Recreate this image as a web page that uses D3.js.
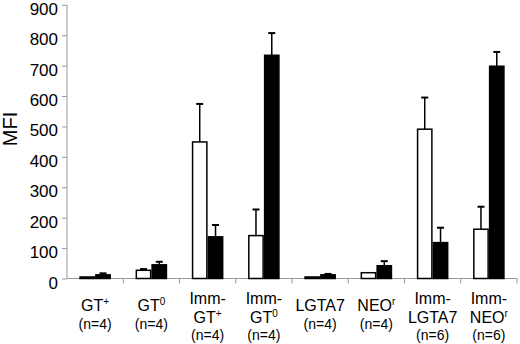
<!DOCTYPE html>
<html>
<head>
<meta charset="utf-8">
<script src="https://cdn.jsdelivr.net/npm/d3@7"></script>
<style>
  body { margin: 0; background: #fff; }
  text { font-family: "Liberation Sans", Arial, sans-serif; fill: #000; }
</style>
</head>
<body>
<div id="chart"></div>
<script>
// category labels: lines, superscript given as [base, sup]
const categories = ['GT+', 'GT0', 'Imm-GT+', 'Imm-GT0', 'LGTA7', 'NEOr', 'Imm-LGTA7', 'Imm-NEOr'];
const labelLines = [
  [['GT', '+']],
  [['GT', '0']],
  [['Imm-', ''], ['GT', '+']],
  [['Imm-', ''], ['GT', '0']],
  [['LGTA7', '']],
  [['NEO', 'r']],
  [['Imm-', ''], ['LGTA7', '']],
  [['Imm-', ''], ['NEO', 'r']]
];
const nLabels = ['(n=4)', '(n=4)', '(n=4)', '(n=4)', '(n=4)', '(n=4)', '(n=6)', '(n=6)'];

const whiteValues = [5, 27, 449, 141, 5, 19, 491, 162];
const whiteErrors = [0, 4, 125, 86, 0, 0, 104, 74];
const blackValues = [12, 45, 137, 734, 12, 42, 118, 698];
const blackErrors = [5, 10, 39, 73, 3, 15, 49, 47];
const yTicks = [0, 100, 200, 300, 400, 500, 600, 700, 800, 900];

const svgWidth = 520, svgHeight = 344;
const margin = {top: 4.8, left: 67, right: 3, bottom: 65.5};
const chartWidth = svgWidth - margin.left - margin.right;
const chartHeight = svgHeight - margin.top - margin.bottom;

const svg = d3.select('#chart').append('svg')
  .attr('width', svgWidth).attr('height', svgHeight);
const g = svg.append('g').attr('transform', `translate(${margin.left},${margin.top})`);

const x = d3.scaleBand().domain(categories).range([0, 450]).padding(0);
const xInner = d3.scaleBand().domain(['white', 'black']).range([0, x.bandwidth()])
  .paddingInner(0).paddingOuter(0.78);
const y = d3.scaleLinear().domain([0, 900]).range([chartHeight, 0]);

// y axis
const yAxis = g.append('g').call(d3.axisLeft(y).tickValues(yTicks).tickSize(5).tickPadding(4));
yAxis.select('.domain').attr('stroke', '#999').attr('d', `M0,0V${chartHeight}`);
yAxis.selectAll('.tick line').attr('stroke', '#999');
yAxis.selectAll('.tick text').style('font-size', '17px').attr('dy', '0.56em').attr('fill', '#000');

// x axis (boundary ticks)
const xg = g.append('g').attr('transform', `translate(0,${chartHeight})`);
xg.append('line').attr('x1', 0).attr('x2', 450).attr('stroke', '#999');
xg.selectAll('.xt').data(categories).enter().append('line')
  .attr('x1', d => x(d) + x.bandwidth()).attr('x2', d => x(d) + x.bandwidth())
  .attr('y1', 0).attr('y2', 5).attr('stroke', '#999');

const series = [
  {key: 'white', values: whiteValues, errors: whiteErrors, fill: '#fff'},
  {key: 'black', values: blackValues, errors: blackErrors, fill: '#000'}
];

series.forEach(s => {
  const bw = xInner.bandwidth();
  g.selectAll('.bar-' + s.key).data(categories).enter().append('rect')
    .attr('x', (d, i) => x(d) + xInner(s.key) + 0.75)
    .attr('y', (d, i) => y(s.values[i]))
    .attr('width', bw - 1.5)
    .attr('height', (d, i) => y(0) - y(s.values[i]))
    .attr('fill', s.fill).attr('stroke', '#000').attr('stroke-width', 1.5);
  const eg = g.selectAll('.err-' + s.key).data(categories).enter()
    .filter((d, i) => s.errors[i] > 0).append('g');
  eg.append('line')
    .attr('x1', d => x(d) + xInner(s.key) + bw / 2)
    .attr('x2', d => x(d) + xInner(s.key) + bw / 2)
    .attr('y1', d => y(s.values[categories.indexOf(d)]))
    .attr('y2', d => { const i = categories.indexOf(d); return y(s.values[i] + s.errors[i]); })
    .attr('stroke', '#000').attr('stroke-width', 1.5);
  eg.append('line')
    .attr('x1', d => x(d) + xInner(s.key) + bw / 2 - 3.5)
    .attr('x2', d => x(d) + xInner(s.key) + bw / 2 + 3.5)
    .attr('y1', d => { const i = categories.indexOf(d); return y(s.values[i] + s.errors[i]); })
    .attr('y2', d => { const i = categories.indexOf(d); return y(s.values[i] + s.errors[i]); })
    .attr('stroke', '#000').attr('stroke-width', 2);
});

// category labels
categories.forEach((c, i) => {
  const cx = margin.left + x(c) + x.bandwidth() / 2;
  const lines = labelLines[i];
  const baselines = lines.length === 1 ? [310.5] : [304, 323];
  lines.forEach((ln, j) => {
    const t = svg.append('text').attr('x', cx).attr('y', baselines[j])
      .attr('text-anchor', 'middle').style('font-size', '16px');
    t.append('tspan').text(ln[0]);
    if (ln[1]) t.append('tspan').text(ln[1]).style('font-size', '10px').attr('dy', -6);
  });
  svg.append('text').attr('x', cx).attr('y', lines.length === 1 ? 328.5 : 340)
    .attr('text-anchor', 'middle').style('font-size', '14px').text(nLabels[i]);
});

// axis title
svg.append('text')
  .attr('transform', 'translate(17,129) rotate(-90)')
  .attr('text-anchor', 'middle').style('font-size', '20px').text('MFI');
</script>
</body>
</html>
